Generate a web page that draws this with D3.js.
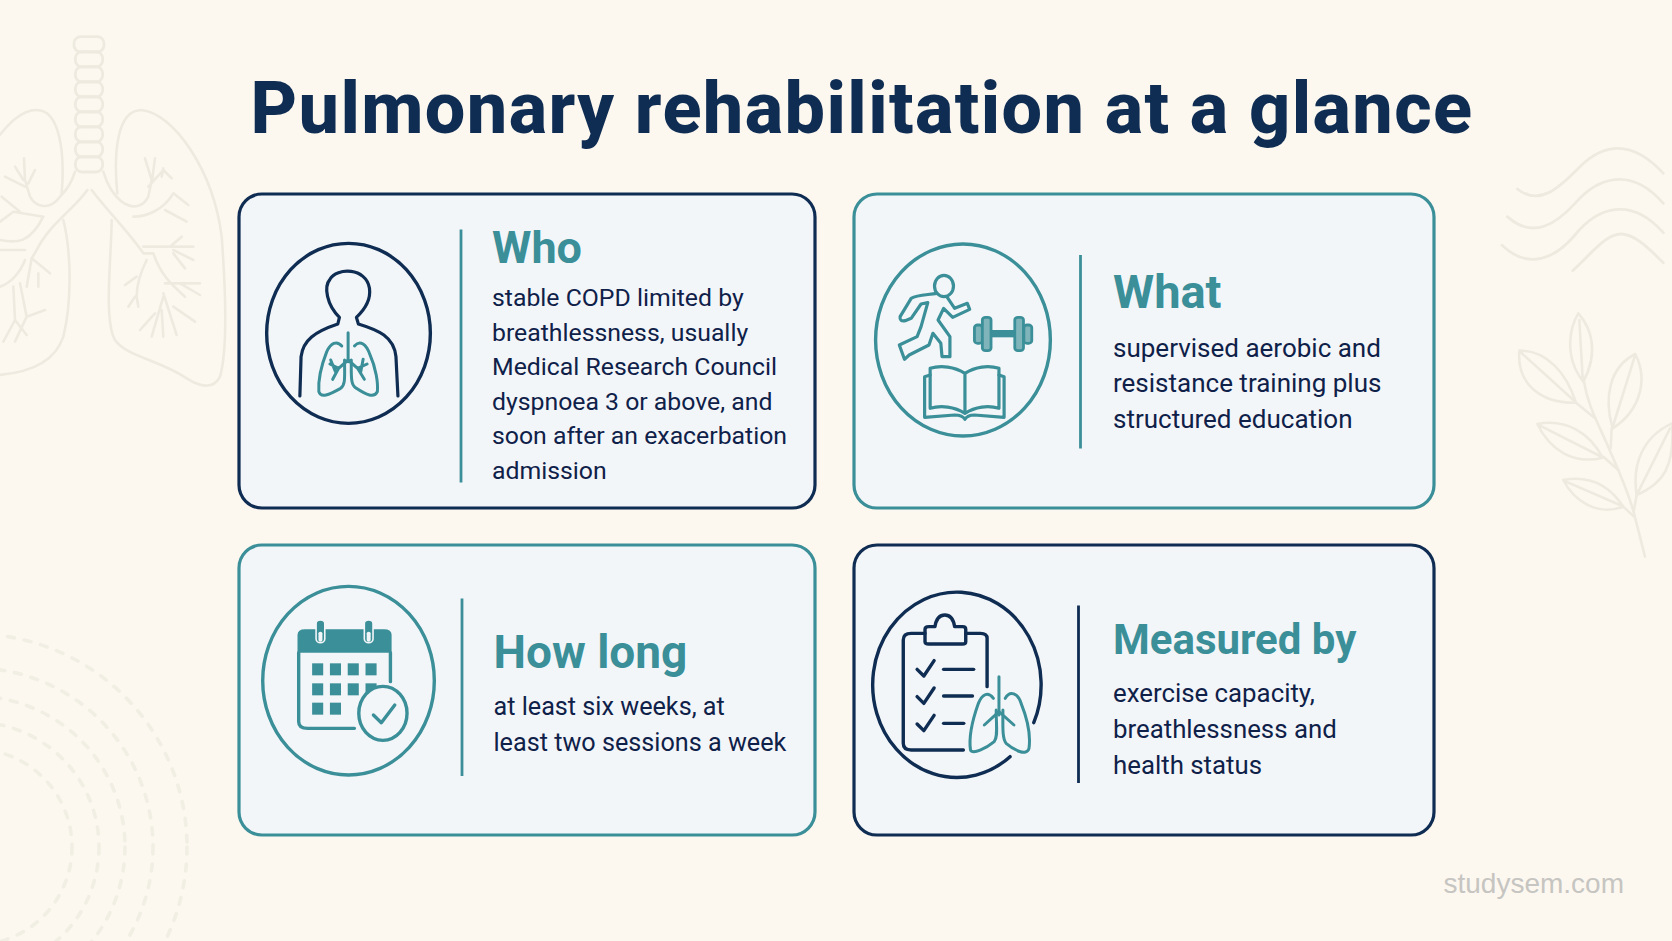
<!DOCTYPE html>
<html><head><meta charset="utf-8">
<script src="https://cdn.jsdelivr.net/npm/d3@7/dist/d3.min.js"></script>
<style>
html,body{margin:0;padding:0;background:#fcf8f0;overflow:hidden}
svg{display:block}
.np{vector-effect:non-scaling-stroke;fill:none;stroke-linecap:round;stroke-linejoin:round}
</style></head><body>
<script>
const titleText = "Pulmonary rehabilitation at a glance";
const watermark = "studysem.com";
const cardHeadings = ["Who","What","How long","Measured by"];
const cardBodies = [
  ["stable COPD limited by","breathlessness, usually","Medical Research Council","dyspnoea 3 or above, and","soon after an exacerbation","admission"],
  ["supervised aerobic and","resistance training plus","structured education"],
  ["at least six weeks, at","least two sessions a week"],
  ["exercise capacity,","breathlessness and","health status"]
];
const cardTones = ["navy","teal","teal","navy"];
const dividerTones = ["teal","teal","teal","navy"];
const ringRadii = [98,125,151,179,213];

const NAVY="#0f2c52", TEAL="#3b8f98", INK="#0f2149", CARD="#f3f6f9", ART="#eeeae0";
const tone = d3.scaleOrdinal(["navy","teal"],[NAVY,TEAL]);
const W=1672,H=941;
const svg=d3.select("body").append("svg").attr("width",W).attr("height",H);
svg.append("rect").attr("width",W).attr("height",H).attr("fill","#fcf8f0");

// ---- faint background art ----
const art=svg.append("g");
art.selectAll("circle.ring").data(ringRadii).join("circle").attr("class","ring")
  .attr("cx",-26).attr("cy",847).attr("r",d=>d).attr("fill","none").attr("stroke","#f1eee4")
  .attr("stroke-width",3.6).attr("stroke-dasharray","7 10").attr("stroke-linecap","round");

function local(parent,x0,y0,sx,sy){return parent.append("g").attr("transform",`translate(${x0},${y0}) scale(${sx},${sy})`);}
function paths(g,list,color,w,fill){
  g.selectAll(null).data(list).join("path").attr("class","np").attr("d",d=>d)
   .attr("stroke",color).attr("stroke-width",w).style("fill",fill||"none");
}
// lungs
const lg=local(art,0,20,1/3,1/3);
d3.range(9).forEach(i=>{
  lg.append("rect").attr("class","np").attr("x",i==0?222:226).attr("y",50+i*45).attr("width",i==0?90:82).attr("height",46).attr("rx",20)
    .attr("stroke",ART).attr("stroke-width",2.8).style("fill","none");
});
paths(lg,[
 "M352,520 C340,400 350,270 425,270 C520,280 640,450 665,650 C680,850 680,1000 660,1070 C640,1110 600,1100 560,1075 C480,1020 380,1010 345,960 C310,900 335,700 335,600",
 "M185,520 C195,400 180,270 110,270 C60,270 20,320 -5,350",
 "M190,600 C215,700 215,850 190,950 C160,1040 60,1060 -5,1065",
 "M225,455 C215,490 195,515 180,530 C150,570 110,565 90,530 L75,480 L72,415 M85,490 L105,450 M70,480 L45,440 M75,500 L15,470",
 "M262,510 C225,565 150,610 110,690 L95,715 L80,800 M310,455 C320,490 340,525 365,545 C400,570 430,560 445,530 L455,480 L435,415 M455,490 L465,415 M445,500 L490,450 L515,475 M485,470 L490,445",
 "M275,510 C320,570 390,640 430,700 L460,700 C480,760 510,790 555,830 M400,590 C440,590 490,570 520,520 L565,555 M495,570 L560,605 M430,680 L510,680 L545,650 M510,680 L580,680 M520,690 L580,720 M555,745 L520,700",
 "M495,790 L600,790 M540,790 L600,825 M490,820 L530,945 M520,860 L585,905 M490,830 L455,950 M465,880 L420,930 M485,870 L490,950",
 "M440,720 C420,760 410,790 410,830 L415,860 M410,770 L375,795 M405,830 L385,860",
 "M75,720 C60,760 30,790 0,800 M60,790 L80,890 L45,965 M80,890 L135,870 M95,715 L150,760 M115,760 L115,800 M40,800 L45,900 L10,965 M45,900 L80,945",
 "M130,590 L40,575 L0,605 M75,690 L0,690 M130,590 C90,670 50,670 0,660 M60,575 L5,530"
],ART,2.6);
// waves
const wv=local(art,1460,120,1/3,1/3);
paths(wv,[
 "M172,207 C240,260 300,200 350,150 C410,85 500,40 610,160",
 "M142,290 C220,360 290,310 345,250 C410,175 510,135 610,250",
 "M126,376 C210,455 290,410 345,345 C410,265 510,225 610,338",
 "M338,452 C400,395 440,340 485,342 C530,345 570,390 610,428"
],ART,2.8);
// leaves
const lf=local(art,1460,120,1/3,1/3);
paths(lf,[
 "M555,1310 L522,1180 C500,1100 470,1040 440,970 C410,900 385,860 372,785",
 "M350,850 L405,895 M430,1010 L475,1050 M490,1160 L522,1190 M455,925 L452,985 M530,1125 L522,1170",
 "M370,785 C310,710 330,620 355,580 C390,620 420,690 370,785 Z M358,600 L368,775",
 "M348,848 C240,850 170,790 178,692 C260,690 320,760 348,848 Z M182,697 L340,840",
 "M458,925 C430,830 450,740 526,702 C570,790 530,880 458,925 Z M524,710 L460,915",
 "M428,1013 C340,1035 270,990 232,912 C320,895 390,940 428,1013 Z M240,917 L420,1008",
 "M530,1125 C515,1030 550,950 636,910 C645,1040 610,1090 530,1125 Z M630,925 L535,1115",
 "M490,1160 C410,1190 340,1140 310,1080 C390,1065 450,1100 490,1160 Z M318,1085 L480,1155"
],ART,2.6);

// ---- title ----
const FONT="Roboto,'Noto Sans',sans-serif";
svg.append("text").attr("x",862).attr("y",133).attr("text-anchor","middle")
  .attr("font-family",FONT).attr("font-weight",800).attr("font-size",72)
  .attr("fill",NAVY).attr("letter-spacing",1.4).text(titleText);
svg.append("text").attr("x",1624).attr("y",893).attr("text-anchor","end")
  .attr("font-family","'Liberation Sans',sans-serif").attr("font-size",28).attr("fill","#c6c5c1").text(watermark);

// ---- cards ----
const idx=[0,1,2,3];
const cardX=d3.scaleOrdinal(idx,[239,854,239,854]);
const cardW=d3.scaleOrdinal(idx,[576,580,576,580]);
const cardY=d3.scaleOrdinal(idx,[194,194,545,545]);
const cardH=d3.scaleOrdinal(idx,[314,314,290,290]);
const divX=d3.scaleOrdinal(idx,[461,1080.5,462,1078.5]);
const divY=d3.scaleOrdinal(idx,[[229.5,482.5],[255,448.5],[598.5,776],[605.5,783]]);
const textX=d3.scaleOrdinal(idx,[492,1113,493.5,1113]);
const headY=d3.scaleOrdinal(idx,[263,307.5,667.5,654]);
const firstY=d3.scaleOrdinal(idx,[306,356.5,714.5,701.5]);
const lead=d3.scaleOrdinal(idx,[34.6,35.7,36,36.2]);
const headSize=d3.scaleOrdinal(idx,[45,47,46,42]);
const bodySize=d3.scaleOrdinal(idx,[24.8,26,25.2,25.8]);

const cards=svg.selectAll("g.card").data(idx).join("g").attr("class","card");
cards.append("rect").attr("x",d=>cardX(d)).attr("y",d=>cardY(d)).attr("width",d=>cardW(d)).attr("height",d=>cardH(d))
  .attr("rx",23).attr("fill",CARD).attr("stroke",d=>tone(cardTones[d])).attr("stroke-width",3.2);
cards.append("line").attr("x1",d=>divX(d)).attr("x2",d=>divX(d)).attr("y1",d=>divY(d)[0]).attr("y2",d=>divY(d)[1])
  .attr("stroke",d=>tone(dividerTones[d])).attr("stroke-width",2.8);
cards.append("text").attr("x",d=>textX(d)).attr("y",d=>headY(d))
  .attr("font-family",FONT).attr("font-weight",700).attr("font-size",d=>headSize(d))
  .attr("fill",TEAL).text(d=>cardHeadings[d]);
cards.each(function(d){
  d3.select(this).selectAll("text.b").data(cardBodies[d]).join("text").attr("class","b")
   .attr("x",textX(d)).attr("y",(t,i)=>firstY(d)+i*lead(d))
   .attr("font-family",FONT).attr("font-weight",400).attr("font-size",bodySize(d))
   .attr("fill",INK).text(t=>t);
});

// ---- icons: drawn in crop-space, stroke widths stay in px ----
const SX=1/2.529,SY=1/3;
// Who
const i1=local(svg,220,180,SX,SY);
i1.append("ellipse").attr("class","np").attr("cx",325).attr("cy",460).attr("rx",207).attr("ry",270).attr("stroke",NAVY).attr("stroke-width",3.4);
paths(i1,["M202,648 L205,530 C210,480 240,455 298,432 L302,412 C270,375 262,320 278,298 C295,262 370,262 378,325 C382,360 365,390 345,412 L350,432 C400,450 440,470 445,530 L450,648"],NAVY,3.2);
paths(i1,[
 "M324,458 L324,545",
 "M308,498 C295,480 280,490 270,515 C255,560 248,600 250,635 C255,655 275,645 305,625 C318,615 315,590 315,540",
 "M340,498 C355,478 370,495 378,520 C395,565 400,610 398,635 C390,655 370,645 345,625 C330,615 332,590 332,540",
 "M324,540 L300,565 L285,598 M300,565 L278,552 M292,575 L280,540 M324,540 L348,565 L365,598 M348,565 L372,552 M356,575 L362,538"
],TEAL,3);
// What
const i2=local(svg,840,180,SX,SY);
i2.append("ellipse").attr("class","np").attr("cx",311).attr("cy",480).attr("rx",221).attr("ry",288).attr("stroke",TEAL).attr("stroke-width",3.4);
i2.append("ellipse").attr("class","np").attr("cx",263).attr("cy",318).attr("rx",24).attr("ry",32).attr("stroke",TEAL).attr("stroke-width",3.2);
paths(i2,[
 "M245,340 C220,345 195,345 180,355 L152,410 Q150,425 165,422 L180,415 L205,372 L222,368 L205,440 L195,470 L150,495 L163,538 L175,525 L225,495 L235,460 L255,490 L258,530 L278,530 L278,470 L248,420 L262,385 L285,412 L328,388 L322,370 L290,385 L270,350",
 "M228,585 L214,590 L214,712 L290,705 Q310,705 316,718 Q322,705 340,705 L415,712 L415,590 L402,585",
 "M316,580 C290,560 255,555 228,565 L228,685 C255,675 290,680 316,700 C342,680 375,675 402,685 L402,565 C375,555 342,560 316,580 L316,700"
],TEAL,3.2);
const plates=[[340,435,20,55],[360,412,22,100],[442,412,22,100],[465,435,20,55]];
i2.selectAll("rect.pl").data(plates).join("rect").attr("class","pl").attr("x",d=>d[0]).attr("y",d=>d[1]).attr("width",d=>d[2]).attr("height",d=>d[3]).attr("rx",8)
  .attr("fill","#7fb5ba").attr("stroke",TEAL).attr("stroke-width",2.8).style("vector-effect","non-scaling-stroke");
i2.append("rect").attr("x",382).attr("y",450).attr("width",60).attr("height",22).attr("fill",TEAL);
// How long
const i3=local(svg,220,530,SX,SY);
i3.append("ellipse").attr("class","np").attr("cx",325).attr("cy",452).attr("rx",217).attr("ry",283).attr("stroke",TEAL).attr("stroke-width",3.4);
i3.append("path").attr("d","M196,368 L196,315 Q196,298 215,298 L415,298 Q434,298 434,315 L434,368 Z").attr("fill",TEAL);
paths(i3,["M199,368 L199,575 Q199,595 222,595 L340,595","M431,368 L431,455"],TEAL,3.4);
[254,376].forEach(cx=>{
  i3.append("rect").attr("class","np").attr("x",cx-11).attr("y",270).attr("width",22).attr("height",68).attr("rx",11)
    .attr("stroke",CARD).attr("stroke-width",1.6).style("fill",TEAL);
  i3.append("rect").attr("class","np").attr("x",cx-5).attr("y",305).attr("width",10).attr("height",30).attr("rx",5).attr("stroke","none").style("fill",CARD);
});
const cols=[233,278,323,368], rows=[400,460,518], counts=[4,4,2];
rows.forEach((y,r)=>cols.slice(0,counts[r]).forEach(x=>{
  i3.append("rect").attr("x",x).attr("y",y).attr("width",28).attr("height",36).attr("fill",TEAL);
}));
i3.append("ellipse").attr("class","np").attr("cx",412).attr("cy",550).attr("rx",61).attr("ry",81).attr("stroke",TEAL).attr("stroke-width",3.4).style("fill",CARD);
paths(i3,["M388,555 L408,578 L442,525"],TEAL,3.4);
// Measured by
const i4=local(svg,840,530,SX,SY);
paths(i4,["M430,680 A213,278 0 1 1 490,578"],NAVY,3.4);
paths(i4,[
 "M372,470 L372,325 Q372,310 355,310 L318,310",
 "M215,310 L180,310 Q160,310 160,330 L160,640 Q160,660 180,660 L312,660",
 "M215,335 L215,298 Q215,290 225,290 L240,290 Q245,255 265,255 Q285,255 290,290 L310,290 Q318,290 318,298 L318,335 Q318,342 310,342 L225,342 Q215,342 215,335 Z",
 "M195,418 L212,438 L238,392","M195,500 L212,520 L238,474","M195,582 L212,602 L238,556",
 "M262,418 L338,418","M262,498 L335,498","M262,580 L313,580"
],NAVY,3.4);
paths(i4,[
 "M402,440 L402,555",
 "M388,505 C375,485 360,490 350,520 C335,570 325,620 330,660 C335,675 370,655 390,635 C400,620 395,590 395,540",
 "M418,505 C430,480 450,490 458,520 C475,570 482,620 478,655 C472,680 440,660 420,640 C410,625 412,590 412,540",
 "M402,545 L365,585 M402,545 L440,585"
],TEAL,3);
</script>
</body></html>
